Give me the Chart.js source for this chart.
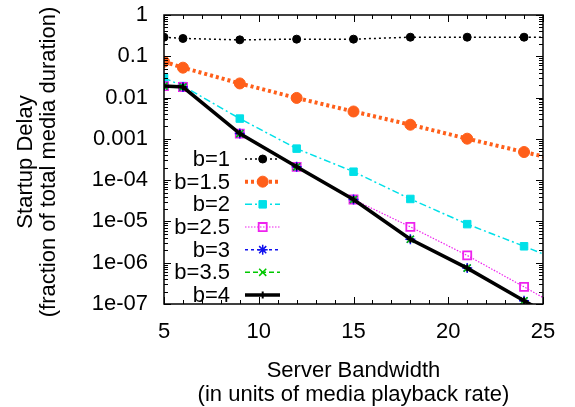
<!DOCTYPE html>
<html>
<head>
<meta charset="utf-8">
<script src="https://cdn.jsdelivr.net/npm/chart.js@4.4.0/dist/chart.umd.min.js"></script>
<style>
  html, body { margin: 0; padding: 0; background: #fff; }
</style>
</head>
<body>
<canvas id="chart" width="575" height="407"></canvas>
<script>
// server bandwidth (x); the last point lies past the axis end and is clipped
const bandwidth = [5, 6, 9, 12, 15, 18, 21, 24, 27];
const seriesNames = ['b=1', 'b=1.5', 'b=2', 'b=2.5', 'b=3', 'b=3.5', 'b=4'];

const delayB1  = [0.29, 0.27, 0.25, 0.26, 0.26, 0.29, 0.29, 0.29, 0.29];
const delayB15 = [0.074, 0.053, 0.022, 0.0098, 0.0046, 0.0022, 0.00101, 0.00048, 0.00023];
const delayB2  = [0.03, 0.019, 0.0031, 5.8e-4, 1.6e-4, 3.5e-5, 8.6e-6, 2.5e-6, 7e-7];
const delayB25 = [0.019, 0.018, 0.00134, 2.1e-4, 3.4e-5, 7.4e-6, 1.5e-6, 2.6e-7, 4.4e-8];
const delayB3  = [0.019, 0.018, 0.00134, 2.1e-4, 3.4e-5, 3.7e-6, 7.4e-7, 1.2e-7, 2e-8];
const delayB35 = [0.019, 0.018, 0.00134, 2.1e-4, 3.4e-5, 3.7e-6, 7.4e-7, 1.2e-7, 2e-8];
const delayB4  = [0.019, 0.018, 0.00134, 2.1e-4, 3.4e-5, 3.7e-6, 7.4e-7, 1.2e-7, 2e-8];

const xTicks = [5, 10, 15, 20, 25];
const yTickValues = [1, 0.1, 0.01, 0.001, 1e-4, 1e-5, 1e-6, 1e-7];
const yTickLabels = ['1', '0.1', '0.01', '0.001', '1e-04', '1e-05', '1e-06', '1e-07'];

const allSeries = [delayB1, delayB15, delayB2, delayB25, delayB3, delayB35, delayB4];

const styles = [
  { color: '#000000', width: 1.5, dash: [2, 3], point: 'circle', r: 4, fill: true },
  { color: '#ff5f1a', width: 4, dash: [3, 3], point: 'circle', r: 5.5, fill: true },
  { color: '#00e0e8', width: 1.5, dash: [7, 3, 2, 3], point: 'rect', r: 5.3, fill: true },
  { color: '#ee22ee', width: 1.2, dash: [1.5, 1.5], point: 'rect', r: 5.7, fill: false, pw: 1.8 },
  { color: '#1010ee', width: 1.5, dash: [3, 3], point: 'star', r: 5, fill: false, pw: 1.5 },
  { color: '#00c800', width: 1.5, dash: [5, 3], point: 'crossRot', r: 5, fill: false, pw: 1.5 },
  { color: '#000000', width: 3.5, dash: [], point: 'cross', r: 3.5, fill: false, pw: 2 }
];

const FONT = 'Liberation Sans, Arial, sans-serif';
Chart.defaults.font.family = FONT;
Chart.defaults.font.size = 22;
Chart.defaults.color = '#000';

const datasets = allSeries.map((vals, i) => {
  const s = styles[i];
  return {
    label: seriesNames[i],
    data: bandwidth.map((x, k) => ({ x: x, y: vals[k] })),
    borderColor: s.color,
    borderWidth: s.width,
    borderDash: s.dash,
    pointStyle: s.point,
    pointRadius: s.r,
    pointBackgroundColor: s.fill ? s.color : 'rgba(0,0,0,0)',
    pointBorderColor: s.color,
    pointBorderWidth: s.pw || 1,
    order: allSeries.length - 1 - i
  };
});

function drawMarker(ctx, s, x, y) {
  ctx.save();
  ctx.setLineDash([]);
  ctx.fillStyle = s.fill ? s.color : 'rgba(0,0,0,0)';
  ctx.strokeStyle = s.color;
  ctx.lineWidth = s.pw || 1;
  Chart.helpers.drawPoint(ctx, { pointStyle: s.point, radius: s.r, rotation: 0, borderWidth: s.pw || 1 }, x, y);
  ctx.restore();
}

const framePlugin = {
  id: 'frame',
  afterDatasetsDraw(chart) {
    const ctx = chart.ctx;
    const a = chart.chartArea;
    const xs = chart.scales.x, ys = chart.scales.y;
    ctx.save();
    ctx.strokeStyle = '#000';
    ctx.lineWidth = 1.5;
    ctx.setLineDash([]);
    ctx.strokeRect(a.left, a.top, a.right - a.left, a.bottom - a.top);
    ctx.lineWidth = 1;
    ctx.beginPath();
    // x ticks, inward at bottom and top
    for (let v = 5; v <= 25; v++) {
      const px = Math.round(xs.getPixelForValue(v)) + 0.5;
      const len = (v % 5 === 0) ? 7 : 4;
      ctx.moveTo(px, a.bottom); ctx.lineTo(px, a.bottom - len);
      ctx.moveTo(px, a.top); ctx.lineTo(px, a.top + len);
    }
    // y ticks (log) inward left and right
    for (let e = -7; e <= 0; e++) {
      for (let m = 1; m <= 9; m++) {
        const v = m * Math.pow(10, e);
        if (v > 1) break;
        const py = Math.round(ys.getPixelForValue(v)) + 0.5;
        const len = m === 1 ? 7 : 4;
        ctx.moveTo(a.left, py); ctx.lineTo(a.left + len, py);
        ctx.moveTo(a.right, py); ctx.lineTo(a.right - len, py);
      }
    }
    ctx.stroke();

    // legend, labels right-aligned with samples to the right
    ctx.font = '22px ' + FONT;
    ctx.textAlign = 'right';
    ctx.textBaseline = 'middle';
    ctx.fillStyle = '#000';
    const rowTop = 159, rowGap = 22.67;
    seriesNames.forEach((name, i) => {
      const y = rowTop + i * rowGap;
      const s = styles[i];
      ctx.fillText(name, 230, y + 1);
      ctx.save();
      ctx.strokeStyle = s.color;
      ctx.lineWidth = s.width;
      ctx.setLineDash(s.dash);
      ctx.beginPath();
      ctx.moveTo(245, y); ctx.lineTo(280, y);
      ctx.stroke();
      ctx.restore();
      drawMarker(ctx, s, 262.7, y);
    });

    // axis titles
    ctx.textAlign = 'center';
    ctx.textBaseline = 'alphabetic';
    ctx.fillText('Server Bandwidth', (a.left + a.right) / 2, 377);
    ctx.fillText('(in units of media playback rate)', (a.left + a.right) / 2, 401);
    ctx.save();
    ctx.translate(0, 162);
    ctx.rotate(-Math.PI / 2);
    ctx.fillText('Startup Delay', 0, 32);
    ctx.fillText('(fraction of total media duration)', 0, 55);
    ctx.restore();
    ctx.restore();
  }
};

new Chart(document.getElementById('chart'), {
  type: 'line',
  data: { datasets: datasets },
  options: {
    responsive: false,
    animation: false,
    layout: { padding: { top: 0, right: 32, left: 0, bottom: 0 } },
    plugins: { legend: { display: false }, tooltip: { enabled: false } },
    scales: {
      x: {
        type: 'linear',
        min: 5,
        max: 25,
        afterBuildTicks: (scale) => { scale.ticks = xTicks.map(v => ({ value: v })); },
        afterFit: (scale) => { scale.height = 103; },
        ticks: { padding: 15, autoSkip: false, maxRotation: 0 },
        grid: { display: false, drawTicks: false },
        border: { display: false }
      },
      y: {
        type: 'logarithmic',
        min: 1e-7,
        max: 1,
        afterBuildTicks: (scale) => { scale.ticks = yTickValues.map(v => ({ value: v })); },
        afterFit: (scale) => {
          scale.width = 164;
          scale.paddingTop = 15;
          scale.paddingBottom = 0;
        },
        ticks: {
          padding: 16,
          autoSkip: false,
          callback: (value) => {
            const i = yTickValues.findIndex(t => Math.abs(Math.log10(t) - Math.log10(value)) < 1e-6);
            return i >= 0 ? yTickLabels[i] : '';
          }
        },
        grid: { display: false, drawTicks: false },
        border: { display: false }
      }
    }
  },
  plugins: [framePlugin]
});
</script>
</body>
</html>
